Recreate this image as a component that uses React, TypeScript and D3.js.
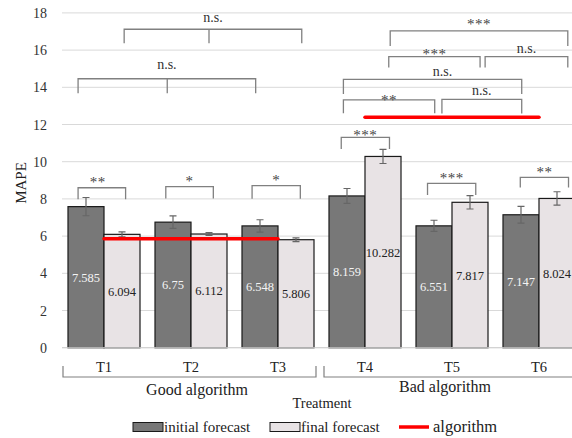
import React, { useEffect, useRef } from 'react';
import * as d3 from 'd3';

// chart values
const treatments = ["T1", "T2", "T3", "T4", "T5", "T6"];
const initialForecast = [7.585, 6.75, 6.548, 8.159, 6.551, 7.147];
const finalForecast = [6.094, 6.112, 5.806, 10.282, 7.817, 8.024];
const initialError = [0.49, 0.34, 0.33, 0.40, 0.30, 0.45];
const finalError = [0.13, 0.08, 0.10, 0.38, 0.36, 0.36];
const yTicks = [0, 2, 4, 6, 8, 10, 12, 14, 16, 18];

// algorithm benchmark per group of treatments
const groupLabels = ["Good algorithm", "Bad algorithm"];
const groupFrom = ["T1", "T4"];
const groupTo = ["T3", "T6"];
const algorithmMape = [5.86, 12.39];

// significance brackets: ends given as [treatment, fraction of band]
const brackets = [
    { a: ["T1", 0.78], b: ["T3", 0.83], mid: ["T2", 0.75], y: 17.12, drop: 14, label: "n.s.", lift: 11 },
    { a: ["T1", 0.14], b: ["T3", 0.19], mid: ["T2", 0.17], y: 14.46, drop: 14.6, label: "n.s.", lift: 13.5 },
    { a: ["T4", 0.85], b: ["T6", 0.90], y: 17.03, drop: 15, label: "***", lift: 11 },
    { a: ["T4", 0.83], b: ["T5", 0.89], y: 15.65, drop: 11, label: "***", lift: 7 },
    { a: ["T5", 0.96], b: ["T6", 0.90], y: 15.65, drop: 11, label: "n.s.", lift: 7.5 },
    { a: ["T4", 0.20], b: ["T6", 0.26], y: 14.43, drop: 14.7, label: "n.s.", lift: 7.5, dx: 10 },
    { a: ["T4", 0.20], b: ["T5", 0.26], y: 13.32, drop: 13.3, label: "**", lift: 4 },
    { a: ["T5", 0.36], b: ["T6", 0.26], y: 13.35, drop: 14, label: "n.s.", lift: 8.5 },
    { a: ["T1", 0.14], b: ["T1", 0.80], y: 8.6, drop: 11.5, label: "**", lift: 9.5, dx: -4 },
    { a: ["T2", 0.15], b: ["T2", 0.81], y: 8.66, drop: 12, label: "*", lift: 10 },
    { a: ["T3", 0.14], b: ["T3", 0.81], y: 8.71, drop: 13, label: "*", lift: 10 },
    { a: ["T4", 0.17], b: ["T4", 0.84], y: 11.31, drop: 11.7, label: "***", lift: 6 },
    { a: ["T5", 0.16], b: ["T5", 0.83], y: 8.84, drop: 11.7, label: "***", lift: 9 },
    { a: ["T6", 0.24], b: ["T6", 0.91], y: 9.16, drop: 10.3, label: "**", lift: 9 },
];

export default function App() {
    const ref = useRef(null);

    useEffect(() => {
        drawChart();
    }, []);

    const drawChart = () => {
        const width = 572;
        const height = 438;
        const serif = "Liberation Serif";
        const gridLeft = 62;
        const darkFill = "#787878";
        const lightFill = "#e8e3e5";
        const bracketColor = "#808080";

        ref.current.innerHTML = "";
        let svg = d3.select(ref.current).append("svg")
            .attr("width", width)
            .attr("height", height)
            .attr("font-family", serif)
            .style("display", "block")
            .style("background", "#fff");

        let xScale = d3.scaleBand()
            .domain(treatments)
            .range([60.5, 582.5])
            .paddingInner(15 / 87)
            .paddingOuter(7.5 / 87);

        let subScale = d3.scaleBand()
            .domain(["initial", "final"])
            .range([0, xScale.bandwidth()]);

        let yScale = d3.scaleLinear()
            .domain([0, 18])
            .range([347.7, 12.9]);

        const bandX = (t, f) => xScale(t) + f * xScale.bandwidth();
        const center = t => xScale(t) + xScale.bandwidth() / 2;

        // grid lines
        svg.append("g")
            .selectAll("line")
            .data(yTicks)
            .enter()
            .append("line")
            .attr("x1", gridLeft)
            .attr("x2", width)
            .attr("y1", d => yScale(d))
            .attr("y2", d => yScale(d))
            .attr("stroke", "#d9d9d9")
            .attr("stroke-width", 1);

        // y tick labels
        svg.append("g")
            .selectAll("text")
            .data(yTicks)
            .enter()
            .append("text")
            .attr("x", 47)
            .attr("y", d => yScale(d) + 5)
            .attr("text-anchor", "end")
            .attr("font-size", 14)
            .attr("fill", "#333")
            .text(d => d);

        svg.append("text")
            .attr("transform", "translate(26, 183) rotate(-90)")
            .attr("text-anchor", "middle")
            .attr("font-size", 15)
            .attr("fill", "#222")
            .text("MAPE");

        const series = [
            { key: "initial", values: initialForecast, errors: initialError, fill: darkFill, labelColor: "#f4f4f4" },
            { key: "final", values: finalForecast, errors: finalError, fill: lightFill, labelColor: "#222" },
        ];

        series.forEach(s => {
            let g = svg.append("g");
            g.selectAll("rect")
                .data(treatments)
                .enter()
                .append("rect")
                .attr("x", (d) => xScale(d) + subScale(s.key))
                .attr("y", (d, i) => yScale(s.values[i]))
                .attr("width", subScale.bandwidth())
                .attr("height", (d, i) => yScale(0) - yScale(s.values[i]))
                .attr("fill", s.fill)
                .attr("stroke", "#1a1a1a")
                .attr("stroke-width", 1.2);

            // error bars
            const ex = d => xScale(d) + subScale(s.key) + subScale.bandwidth() / 2;
            g.selectAll("path.err")
                .data(treatments)
                .enter()
                .append("path")
                .attr("class", "err")
                .attr("d", (d, i) => {
                    const x = ex(d);
                    const top = yScale(s.values[i] + s.errors[i]);
                    const bot = yScale(s.values[i] - s.errors[i]);
                    return `M${x - 3.5},${top}H${x + 3.5}M${x},${top}V${bot}M${x - 3.5},${bot}H${x + 3.5}`;
                })
                .attr("fill", "none")
                .attr("stroke", "#666")
                .attr("stroke-width", 1.2);

            // value labels centred in the bars
            g.selectAll("text")
                .data(treatments)
                .enter()
                .append("text")
                .attr("x", d => ex(d))
                .attr("y", (d, i) => yScale(s.values[i] / 2) + 4.5)
                .attr("text-anchor", "middle")
                .attr("font-size", 12.5)
                .attr("fill", s.labelColor)
                .text((d, i) => s.values[i]);
        });

        // x axis baseline
        svg.append("line")
            .attr("x1", gridLeft)
            .attr("x2", width)
            .attr("y1", yScale(0))
            .attr("y2", yScale(0))
            .attr("stroke", "#d0d0d0");

        // algorithm lines
        svg.append("g")
            .selectAll("line")
            .data(algorithmMape)
            .enter()
            .append("line")
            .attr("x1", (d, i) => center(groupFrom[i]))
            .attr("x2", (d, i) => center(groupTo[i]))
            .attr("y1", d => yScale(d))
            .attr("y2", d => yScale(d))
            .attr("stroke", "#ff0000")
            .attr("stroke-width", 3.5)
            .attr("stroke-linecap", "round");

        // significance brackets
        brackets.forEach(b => {
            const x1 = bandX(b.a[0], b.a[1]);
            const x2 = bandX(b.b[0], b.b[1]);
            const y = yScale(b.y);
            let d = `M${x1},${y + b.drop}V${y}H${x2}V${y + b.drop}`;
            if (b.mid) {
                const xm = bandX(b.mid[0], b.mid[1]);
                d += `M${xm},${y}V${y + b.drop}`;
            }
            svg.append("path")
                .attr("d", d)
                .attr("fill", "none")
                .attr("stroke", bracketColor)
                .attr("stroke-width", 1.3);

            const isStar = b.label.startsWith("*");
            svg.append("text")
                .attr("x", (x1 + x2) / 2 + (b.dx || 0))
                .attr("y", y - b.lift + (isStar ? 9 : 4))
                .attr("text-anchor", "middle")
                .attr("font-size", isStar ? 15 : 14)
                .attr("letter-spacing", isStar ? 0.5 : 0)
                .attr("fill", isStar ? "#444" : "#333")
                .text(b.label);
        });

        // treatment tick labels
        svg.append("g")
            .selectAll("text")
            .data(treatments)
            .enter()
            .append("text")
            .attr("x", d => center(d))
            .attr("y", 372)
            .attr("text-anchor", "middle")
            .attr("font-size", 14.5)
            .attr("fill", "#222")
            .text(d => d);

        // group brackets under the axis
        groupLabels.forEach((label, i) => {
            const x1 = xScale(groupFrom[i]) - 5;
            const x2 = xScale(groupTo[i]) + xScale.bandwidth() + 2;
            svg.append("path")
                .attr("d", `M${x1},366V377H${x2}V366`)
                .attr("fill", "none")
                .attr("stroke", bracketColor)
                .attr("stroke-width", 1.2);
            svg.append("text")
                .attr("x", i === 0 ? 197 : 445)
                .attr("y", i === 0 ? 395 : 392)
                .attr("text-anchor", "middle")
                .attr("font-size", 16)
                .attr("fill", "#222")
                .text(label);
        });

        svg.append("text")
            .attr("x", 322)
            .attr("y", 408)
            .attr("text-anchor", "middle")
            .attr("font-size", 14.5)
            .attr("fill", "#222")
            .text("Treatment");

        // legend
        let legend = svg.append("g").attr("transform", "translate(0, 427)");
        legend.append("rect").attr("x", 133).attr("y", -4.5).attr("width", 30).attr("height", 9)
            .attr("fill", darkFill).attr("stroke", "#1a1a1a").attr("stroke-width", 1);
        legend.append("text").attr("x", 164).attr("y", 5)
            .attr("font-size", 15).attr("fill", "#222")
            .text("initial forecast");
        legend.append("rect").attr("x", 270).attr("y", -4.5).attr("width", 30).attr("height", 9)
            .attr("fill", lightFill).attr("stroke", "#1a1a1a").attr("stroke-width", 1);
        legend.append("text").attr("x", 301).attr("y", 5)
            .attr("font-size", 15).attr("fill", "#222")
            .text("final forecast");
        legend.append("line").attr("x1", 399).attr("x2", 429).attr("y1", 0).attr("y2", 0)
            .attr("stroke", "#ff0000").attr("stroke-width", 3.5);
        legend.append("text").attr("x", 433).attr("y", 5)
            .attr("font-size", 16.5).attr("fill", "#222")
            .text("algorithm");
    };

    return (
        <div ref={ref} style={{ position: "absolute", left: 0, top: 0 }}></div>
    );
}
